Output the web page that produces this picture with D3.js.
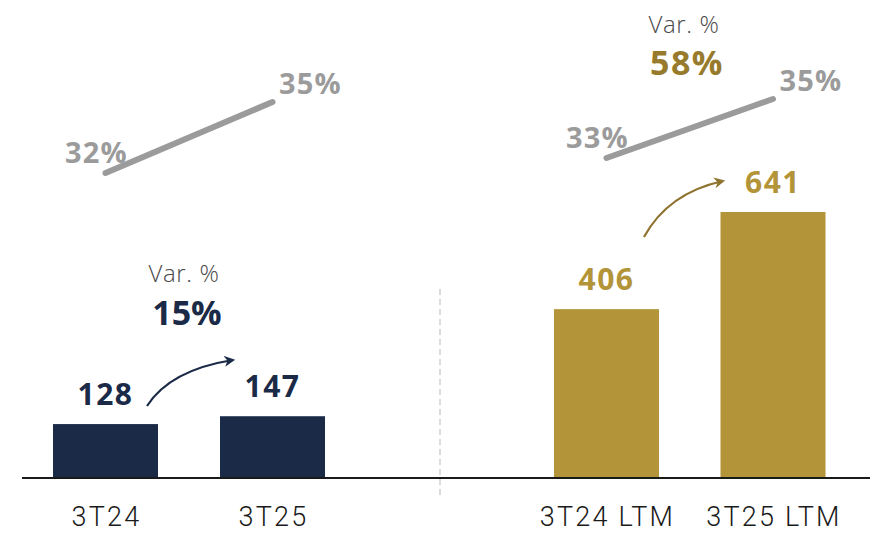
<!DOCTYPE html>
<html>
<head>
<meta charset="utf-8">
<script src="https://cdn.jsdelivr.net/npm/d3@7"></script>
<style>
  html, body { margin: 0; padding: 0; background: #fff; }
  svg { display: block; }
</style>
</head>
<body>
<svg id="chart" width="873" height="541"></svg>
<script>
// data
var categories = ["3T24", "3T25", "3T24 LTM", "3T25 LTM"];
var values = [128, 147, 406, 641];
var marginPct = [[32, 35], [33, 35]];
var varPct = ["15%", "58%"];

var navy = "#1b2a47", gold = "#b39439", goldDark = "#977a2c", grey = "#9b9b9b";
var numFont = "'Open Sans', 'Noto Sans', sans-serif";

var svg = d3.select("#chart");

// bar centres: two groups split by the dashed separator
var xCenter = d3.scaleOrdinal()
    .domain(categories)
    .range([105.5, 272.5, 606.5, 773]);
var barW = 105;

var y = d3.scaleLinear()
    .domain([0, 641])
    .range([477, 212]);

// separate percentage scales for each panel (line drawn above the bars)
var pctScales = [
  d3.scaleLinear().domain([32, 35]).range([173, 102]),
  d3.scaleLinear().domain([33, 35]).range([158, 99])
];

// bars
svg.selectAll("rect.bar")
  .data(values)
  .enter().append("rect")
    .attr("class", "bar")
    .attr("x", function (d, i) { return xCenter(categories[i]) - barW / 2; })
    .attr("width", barW)
    .attr("y", function (d) { return y(d); })
    .attr("height", function (d) { return y(0) - y(d); })
    .attr("fill", function (d, i) { return i < 2 ? navy : gold; });

// baseline
svg.append("line")
    .attr("x1", 22).attr("x2", 870)
    .attr("y1", y(0) + 1).attr("y2", y(0) + 1)
    .attr("stroke", "#1a1a1a")
    .attr("stroke-width", 2);

// dashed separator
svg.append("line")
    .attr("x1", 440).attr("x2", 440)
    .attr("y1", 289).attr("y2", 497)
    .attr("stroke", "#c4c4c4")
    .attr("stroke-width", 1.2)
    .attr("stroke-dasharray", "6,4");

// value labels
svg.selectAll("text.val")
  .data(values)
  .enter().append("text")
    .attr("class", "val")
    .attr("x", function (d, i) { return xCenter(categories[i]); })
    .attr("y", function (d) { return y(d) - 19; })
    .attr("text-anchor", "middle")
    .attr("font-family", numFont)
    .attr("font-weight", 700)
    .attr("font-size", 30)
    .attr("letter-spacing", 1.5)
    .attr("fill", function (d, i) { return i < 2 ? navy : gold; })
    .text(function (d) { return d; });

// category labels
svg.selectAll("text.cat")
  .data(categories)
  .enter().append("text")
    .attr("class", "cat")
    .attr("x", function (d) { return xCenter(d) + 1; })
    .attr("y", 526)
    .attr("text-anchor", "middle")
    .attr("font-family", "Roboto, sans-serif")
    .attr("font-weight", 300)
    .attr("font-size", 27)
    .attr("letter-spacing", 2.2)
    .attr("fill", "#1a1a1a")
    .text(function (d) { return d; });

// margin lines
var line = d3.line()
    .x(function (d) { return d[0]; })
    .y(function (d) { return d[1]; });

marginPct.forEach(function (pcts, p) {
  var cats = categories.slice(p * 2, p * 2 + 2);
  var pts = pcts.map(function (v, i) { return [xCenter(cats[i]), pctScales[p](v)]; });
  svg.append("path")
      .attr("d", line(pts))
      .attr("fill", "none")
      .attr("stroke", grey)
      .attr("stroke-width", 6)
      .attr("stroke-linecap", "round");

  svg.append("text")
      .attr("x", pts[0][0] - 9)
      .attr("y", pts[0][1] - 10)
      .attr("text-anchor", "middle")
      .attr("font-family", numFont)
      .attr("font-weight", 700)
      .attr("font-size", 29)
      .attr("letter-spacing", 1.2)
      .attr("fill", grey)
      .text(pcts[0] + "%");

  svg.append("text")
      .attr("x", pts[1][0] + 38)
      .attr("y", pts[1][1] - 8)
      .attr("text-anchor", "middle")
      .attr("font-family", numFont)
      .attr("font-weight", 700)
      .attr("font-size", 29)
      .attr("letter-spacing", 1.2)
      .attr("fill", grey)
      .text(pcts[1] + "%");
});

// variation annotations
var varPos = [[184, 282, 325], [684, 33, 75]];
varPct.forEach(function (v, p) {
  svg.append("text")
      .attr("x", varPos[p][0])
      .attr("y", varPos[p][1])
      .attr("text-anchor", "middle")
      .attr("font-family", numFont)
      .attr("font-weight", 300)
      .attr("font-size", 24)
      .attr("letter-spacing", 0.6)
      .attr("fill", "#4a4a4a")
      .text("Var. %");
  svg.append("text")
      .attr("x", varPos[p][0] + 3)
      .attr("y", varPos[p][2])
      .attr("text-anchor", "middle")
      .attr("font-family", numFont)
      .attr("font-weight", 700)
      .attr("font-size", 34)
      .attr("letter-spacing", p === 0 ? 0 : 1.5)
      .attr("fill", p === 0 ? navy : goldDark)
      .text(v);
});

// arrows
var defs = svg.append("defs");
[["arrNavy", navy], ["arrGold", "#8f7330"]].forEach(function (m) {
  defs.append("marker")
      .attr("id", m[0])
      .attr("viewBox", "0 0 10 10")
      .attr("refX", 8).attr("refY", 5)
      .attr("markerWidth", 5).attr("markerHeight", 5)
      .attr("orient", "auto")
    .append("path")
      .attr("d", "M0,0 L10,5 L0,10 L3,5 Z")
      .attr("fill", m[1]);
});

var arrows = [
  { s: [147, 406], c: [170, 370], e: [233, 360], color: navy, m: "arrNavy" },
  { s: [644, 237], c: [668, 193], e: [723, 181], color: "#8f7330", m: "arrGold" }
];
arrows.forEach(function (a) {
  var path = d3.path();
  path.moveTo(a.s[0], a.s[1]);
  path.quadraticCurveTo(a.c[0], a.c[1], a.e[0], a.e[1]);
  svg.append("path")
      .attr("d", path.toString())
      .attr("fill", "none")
      .attr("stroke", a.color)
      .attr("stroke-width", 2.2)
      .attr("marker-end", "url(#" + a.m + ")");
});
</script>
</body>
</html>
